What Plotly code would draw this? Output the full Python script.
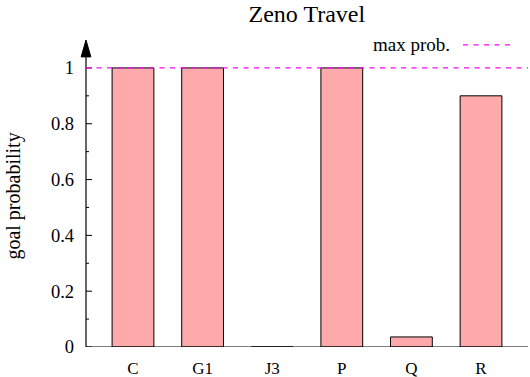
import plotly.graph_objects as go

categories = ["C", "G1", "J3", "P", "Q", "R"]
goal_prob = [1.0, 1.0, 0.0, 1.0, 0.036, 0.9]
max_prob = 1.0
y_ticks = [0, 0.2, 0.4, 0.6, 0.8, 1]
y_tick_labels = ["0", "0.2", "0.4", "0.6", "0.8", "1"]

font = "Liberation Serif"

fig = go.Figure()
fig.add_trace(go.Bar(
    x=list(range(len(categories))), y=goal_prob, width=0.6,
    marker=dict(color="#FFAAAA", line=dict(color="black", width=1)),
    showlegend=False, hoverinfo="skip",
))

fig.update_layout(
    width=530, height=377,
    margin=dict(l=86, r=2, t=40, b=30),
    paper_bgcolor="white", plot_bgcolor="white",
    font=dict(family=font, size=17, color="black"),
    title=dict(text="Zeno Travel", x=0.579, xanchor="center", y=0.985, yanchor="top",
               font=dict(family=font, size=24, color="black")),
    xaxis=dict(
        range=[-0.675, 5.675], tickmode="array",
        tickvals=list(range(len(categories))), ticktext=categories,
        showgrid=False, zeroline=False, showline=False, ticks="",
        tickfont=dict(family=font, size=17), ticklabelstandoff=9,
        fixedrange=True, automargin=False,
    ),
    yaxis=dict(
        range=[0, 1.1], tickmode="array", tickvals=y_ticks, ticktext=y_tick_labels,
        showgrid=False, zeroline=False, showline=False, ticks="",
        tickfont=dict(family=font, size=18.5), ticklabelstandoff=11,
        fixedrange=True, automargin=False,
    ),
)

shapes = []
# bottom axis line
shapes.append(dict(type="line", xref="paper", yref="y", x0=0, x1=1, y0=0, y1=0,
                   line=dict(color="black", width=1.2)))
# left axis line
shapes.append(dict(type="line", xref="paper", yref="paper", x0=0, x1=0, y0=0, y1=0.95,
                   line=dict(color="black", width=1.2)))
# arrowhead
shapes.append(dict(type="path", xref="paper", yref="paper",
                   path="M -0.011 0.945 L 0.011 0.945 L 0 1 Z",
                   fillcolor="black", line=dict(color="black", width=1)))
# major ticks (inside)
for v in y_ticks:
    shapes.append(dict(type="line", xref="paper", yref="y", x0=0, x1=0.0136, y0=v, y1=v,
                       line=dict(color="black", width=1)))
# minor ticks
for i in range(len(y_ticks) - 1):
    v = (y_ticks[i] + y_ticks[i + 1]) / 2
    shapes.append(dict(type="line", xref="paper", yref="y", x0=0, x1=0.0068, y0=v, y1=v,
                       line=dict(color="black", width=1)))
# max prob line
shapes.append(dict(type="line", xref="paper", yref="y", x0=0, x1=1, y0=max_prob, y1=max_prob,
                   line=dict(color="#FF00FF", width=1.2, dash="5px,5.5px")))
# legend sample
shapes.append(dict(type="line", xref="paper", yref="paper", x0=0.853, x1=0.972, y0=0.984, y1=0.984,
                   line=dict(color="#FF00FF", width=1.2, dash="5px,5.5px")))
fig.update_layout(shapes=shapes)

fig.add_annotation(text="max prob.", xref="paper", yref="paper", x=0.828, y=0.984,
                   xanchor="right", yanchor="middle", showarrow=False,
                   font=dict(family=font, size=19, color="black"))

fig.add_annotation(text="goal probability", xref="paper", yref="paper",
                   x=(14 - 86) / 442, y=0.49, textangle=-90,
                   xanchor="center", yanchor="middle", showarrow=False,
                   font=dict(family=font, size=20, color="black"))

fig.write_html("out.html", config={"displayModeBar": False},
               post_script="document.body.style.margin='0';document.body.style.overflow='hidden';")
